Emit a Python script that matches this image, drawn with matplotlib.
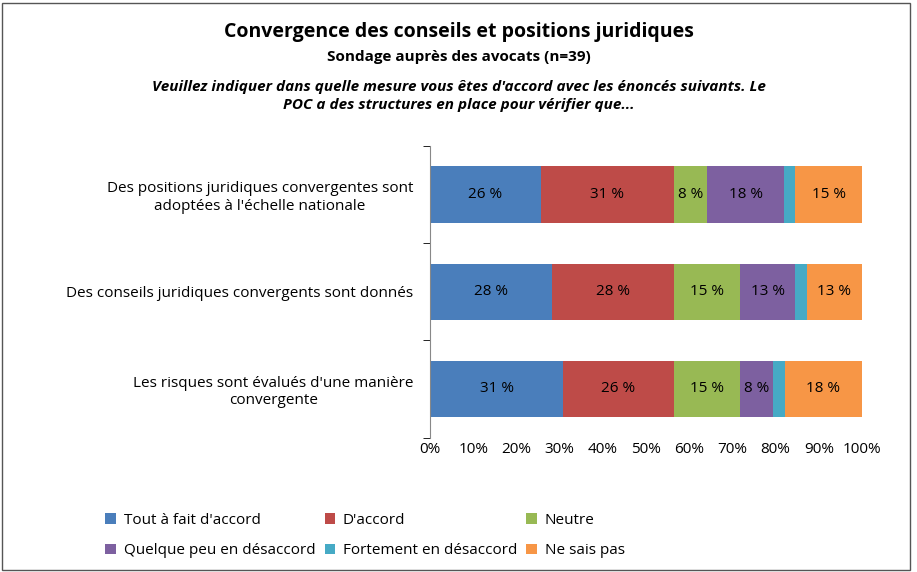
import matplotlib.pyplot as plt

plt.rcParams['font.family'] = ['Open Sans', 'DejaVu Sans']

categories = ["Des positions juridiques convergentes sont\nadoptées à l'échelle nationale",
              "Des conseils juridiques convergents sont donnés",
              "Les risques sont évalués d'une manière\nconvergente"]
series = ["Tout à fait d'accord", "D'accord", "Neutre",
          "Quelque peu en désaccord", "Fortement en désaccord", "Ne sais pas"]
values = [
    [25.6, 30.8, 7.7, 17.9, 2.6, 15.4],
    [28.2, 28.2, 15.4, 12.8, 2.6, 12.8],
    [30.8, 25.6, 15.4, 7.7, 2.6, 17.9],
]
colors = ['#4A7EBB', '#BE4B48', '#98B954', '#7D60A0', '#46AAC5', '#F79646']

fig = plt.figure(figsize=(9.17, 5.72), dpi=100)
ax = fig.add_axes([0.469, 0.235, 0.471, 0.51])

ypos = [2, 1, 0]
for i, cat in enumerate(categories):
    left = 0
    for j, v in enumerate(values[i]):
        ax.barh(ypos[i], v, left=left, height=0.58, color=colors[j],
                label=series[j] if i == 0 else None)
        if v >= 5:
            ax.text(left + v / 2, ypos[i], f"{round(v)} %", ha='center', va='center', fontsize=11)
        left += v

ax.set_xlim(0, 100)
ax.set_ylim(-0.5, 2.5)
ax.set_xticks(range(0, 101, 10))
ax.set_xticklabels([f"{x}%" for x in range(0, 101, 10)], fontsize=11)
ax.set_yticks(ypos)
ax.set_yticklabels(categories, fontsize=11, multialignment='center')
ax.set_yticks([-0.5, 0.5, 1.5, 2.5], minor=True)
ax.tick_params(axis='y', which='major', length=0, pad=12)
ax.tick_params(axis='y', which='minor', length=5, direction='out')
ax.tick_params(axis='x', length=0)
for s in ['top', 'right', 'bottom']:
    ax.spines[s].set_visible(False)
ax.spines['left'].set_color('#888888')

fig.text(0.5, 0.935, "Convergence des conseils et positions juridiques",
         ha='center', fontsize=14, fontweight='bold')
fig.text(0.5, 0.893, "Sondage auprès des avocats (n=39)",
         ha='center', fontsize=11, fontweight='bold')
fig.text(0.5, 0.81, "Veuillez indiquer dans quelle mesure vous êtes d'accord avec les énoncés suivants. Le\nPOC a des structures en place pour vérifier que...",
         ha='center', fontsize=11, fontweight='bold', style='italic', linespacing=1.3)

handles, labels = ax.get_legend_handles_labels()
order = [0, 3, 1, 4, 2, 5]
fig.legend([handles[k] for k in order], [labels[k] for k in order],
           loc='lower left', bbox_to_anchor=(0.1, 0.0), ncol=3, frameon=False,
           fontsize=11, handlelength=0.7, handleheight=0.7, columnspacing=0.6,
           handletextpad=0.5, labelspacing=1.0)

fig.patches.append(plt.Rectangle((0.002, 0.004), 0.99, 0.99, transform=fig.transFigure,
                                 fill=False, edgecolor='#555555', linewidth=1))

fig.savefig('out.png', dpi=100)
